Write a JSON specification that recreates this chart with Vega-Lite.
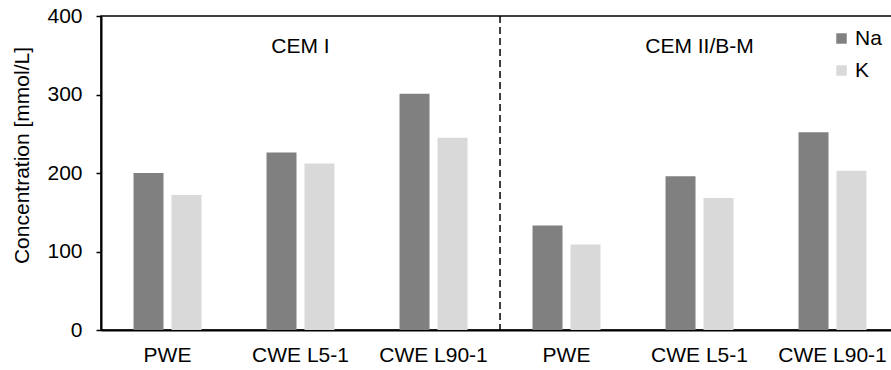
{
  "$schema": "https://vega.github.io/schema/vega-lite/v6.json",
  "width": 798,
  "height": 314,
  "autosize": {"type": "none"},
  "padding": {"left": 101, "top": 16, "right": 0, "bottom": 40},
  "background": "white",
  "config": {
    "font": "Liberation Sans",
    "view": {"stroke": "#000", "strokeWidth": 1.5},
    "axis": {"labelColor": "#000", "titleColor": "#000", "domainColor": "#000", "tickColor": "#000", "grid": false, "labelFont": "Liberation Sans", "titleFont": "Liberation Sans"}
  },
  "datasets": {
    "conc": [
      {"sample": "CEM I|PWE", "ion": "Na", "value": 200},
      {"sample": "CEM I|PWE", "ion": "K", "value": 172},
      {"sample": "CEM I|CWE L5-1", "ion": "Na", "value": 226},
      {"sample": "CEM I|CWE L5-1", "ion": "K", "value": 212},
      {"sample": "CEM I|CWE L90-1", "ion": "Na", "value": 301},
      {"sample": "CEM I|CWE L90-1", "ion": "K", "value": 245},
      {"sample": "CEM II/B-M|PWE", "ion": "Na", "value": 133},
      {"sample": "CEM II/B-M|PWE", "ion": "K", "value": 109},
      {"sample": "CEM II/B-M|CWE L5-1", "ion": "Na", "value": 196},
      {"sample": "CEM II/B-M|CWE L5-1", "ion": "K", "value": 168},
      {"sample": "CEM II/B-M|CWE L90-1", "ion": "Na", "value": 252},
      {"sample": "CEM II/B-M|CWE L90-1", "ion": "K", "value": 203}
    ]
  },
  "layer": [
    {
      "data": {"name": "conc"},
      "mark": {"type": "bar"},
      "encoding": {
        "x": {
          "field": "sample", "type": "nominal", "sort": null,
          "scale": {
            "domain": ["CEM I|PWE", "CEM I|CWE L5-1", "CEM I|CWE L90-1", "CEM II/B-M|PWE", "CEM II/B-M|CWE L5-1", "CEM II/B-M|CWE L90-1"],
            "paddingInner": 0.489, "paddingOuter": 0.2445
          },
          "axis": {"title": null, "ticks": false, "labelAngle": 0, "labelPadding": 14, "labelFontSize": 21, "domainWidth": 2, "labelExpr": "split(datum.label, '|')[1]"}
        },
        "xOffset": {"field": "ion", "type": "nominal", "scale": {"domain": ["Na", "K"], "paddingInner": 0.21, "paddingOuter": 0}},
        "y": {
          "field": "value", "type": "quantitative",
          "scale": {"domain": [0, 400], "nice": false},
          "axis": {"title": "Concentration [mmol/L]", "values": [0, 100, 200, 300, 400], "tickSize": 5, "tickWidth": 1.5, "domainWidth": 2, "labelPadding": 14, "labelFontSize": 21, "titleFontSize": 21, "titleFontWeight": "normal", "titleX": -79, "titleY": 139, "titleAngle": 270, "titleBaseline": "middle", "titleAlign": "center"}
        },
        "color": {
          "field": "ion", "type": "nominal",
          "scale": {"domain": ["Na", "K"], "range": ["#808080", "#d9d9d9"]},
          "legend": {"title": null, "orient": "none", "legendX": 730, "legendY": 12, "symbolType": "square", "symbolSize": 110, "symbolStrokeWidth": 0, "labelFontSize": 21, "labelColor": "#000", "rowPadding": 10, "labelOffset": 3}
        }
      }
    },
    {
      "data": {"values": [{"sample": "CEM II/B-M|PWE"}]},
      "mark": {"type": "rule", "color": "#000", "strokeWidth": 1.5, "strokeDash": [7, 4]},
      "encoding": {
        "x": {"field": "sample", "type": "nominal", "bandPosition": -0.478}
      }
    },
    {
      "data": {"values": [{"sample": "CEM I|CWE L5-1", "label": "CEM I"}, {"sample": "CEM II/B-M|CWE L5-1", "label": "CEM II/B-M"}]},
      "mark": {"type": "text", "fontSize": 21, "color": "#000", "baseline": "middle", "align": "center"},
      "encoding": {
        "x": {"field": "sample", "type": "nominal", "bandPosition": 0.5},
        "y": {"datum": 360},
        "text": {"field": "label"}
      }
    }
  ]
}
